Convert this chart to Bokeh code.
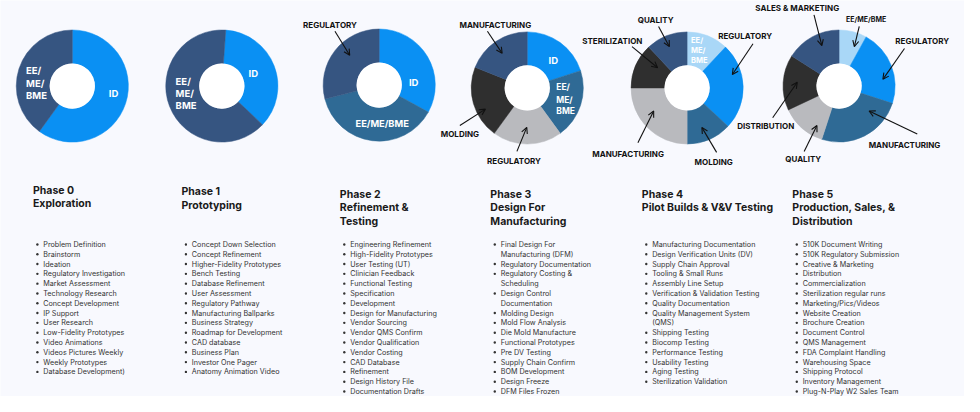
import numpy as np
from bokeh.plotting import figure
from bokeh.models import Range1d, Arrow, OpenHead, ColumnDataSource
from bokeh.core.properties import value
from bokeh.embed import file_html
from bokeh.resources import INLINE

# ---------------- data ----------------
phase_titles = [
    ["Phase 0", "Exploration"],
    ["Phase 1", "Prototyping"],
    ["Phase 2", "Refinement &", "Testing"],
    ["Phase 3", "Design For", "Manufacturing"],
    ["Phase 4", "Pilot Builds & V&V Testing"],
    ["Phase 5", "Production, Sales, &", "Distribution"],
]

phase0_items = ["Problem Definition", "Brainstorm", "Ideation", "Regulatory Investigation",
                "Market Assessment", "Technology Research", "Concept Development", "IP Support",
                "User Research", "Low-Fidelity Prototypes", "Video Animations",
                "Videos Pictures Weekly", "Weekly Prototypes", "Database Development)"]
phase1_items = ["Concept Down Selection", "Concept Refinement", "Higher-Fidelity Prototypes",
                "Bench Testing", "Database Refinement", "User Assessment", "Regulatory Pathway",
                "Manufacturing Ballparks", "Business Strategy", "Roadmap for Development",
                "CAD database", "Business Plan", "Investor One Pager", "Anatomy Animation Video"]
phase2_items = ["Engineering Refinement", "High-Fidelity Prototypes", "User Testing (UT)",
                "Clinician Feedback", "Functional Testing", "Specification", "Development",
                "Design for Manufacturing", "Vendor Sourcing", "Vendor QMS Confirm",
                "Vendor Qualification", "Vendor Costing", "CAD Database", "Refinement",
                "Design History File", "Documentation Drafts"]
phase3_items = ["Final Design For\nManufacturing (DFM)", "Regulatory Documentation",
                "Regulatory Costing &\nScheduling", "Design Control\nDocumentation",
                "Molding Design", "Mold Flow Analysis", "Die Mold Manufacture",
                "Functional Prototypes", "Pre DV Testing", "Supply Chain Confirm",
                "BOM Development", "Design Freeze", "DFM Files Frozen"]
phase4_items = ["Manufacturing Documentation", "Design Verification Units (DV)",
                "Supply Chain Approval", "Tooling & Small Runs", "Assembly Line Setup",
                "Verification & Validation Testing", "Quality Documentation",
                "Quality Management System\n(QMS)", "Shipping Testing", "Biocomp Testing",
                "Performance Testing", "Usability Testing", "Aging Testing",
                "Sterilization Validation"]
phase5_items = ["510K Document Writing", "510K Regulatory Submission", "Creative & Marketing",
                "Distribution", "Commercialization", "Sterilization regular runs",
                "Marketing/Pics/Videos", "Website Creation", "Brochure Creation",
                "Document Control", "QMS Management", "FDA Complaint Handling",
                "Warehousing Space", "Shipping Protocol", "Inventory Management",
                "Plug-N-Play W2 Sales Team"]
phase_items = [phase0_items, phase1_items, phase2_items, phase3_items, phase4_items, phase5_items]

# donut shares (percent), clockwise from the start angle
d0_cats = ["ID", "EE/ME/BME"]
d0_vals = [60, 40]
d1_cats = ["ID", "EE/ME/BME"]
d1_vals = [36, 64]
d2_cats = ["ID", "EE/ME/BME", "REGULATORY"]
d2_vals = [33, 38, 29]
d3_cats = ["ID", "EE/ME/BME", "REGULATORY", "MOLDING", "MANUFACTURING"]
d3_vals = [20, 20, 20, 21, 19]
d4_cats = ["EE/ME/BME", "REGULATORY", "MOLDING", "MANUFACTURING", "STERILIZATION", "QUALITY"]
d4_vals = [12, 25, 13, 25, 13, 12]
d5_cats = ["EE/ME/BME", "REGULATORY", "MANUFACTURING", "QUALITY", "DISTRIBUTION", "SALES & MARKETING"]
d5_vals = [8, 22, 25, 13, 16, 16]
donut_vals = [d0_vals, d1_vals, d2_vals, d3_vals, d4_vals, d5_vals]

# ---------------- styles / layout ----------------
BG = "#F8F9FE"
NAVY, MID, BLACK, GRAY, LIGHT, BRIGHT = "#365581", "#2F6A95", "#2F2F2F", "#B9BABE", "#A9D7F7", "#0A90F3"
donut_colors = [
    [BRIGHT, NAVY],
    [BRIGHT, NAVY],
    [BRIGHT, MID, NAVY],
    [BRIGHT, MID, GRAY, BLACK, NAVY],
    [LIGHT, BRIGHT, MID, GRAY, BLACK, NAVY],
    [LIGHT, BRIGHT, MID, GRAY, BLACK, NAVY],
]
centers = [(73, 89), (225, 89), (385, 88), (535.5, 91), (698, 91), (852.5, 89)]
start_deg = [90, 86, 90, 90, 90, 90]
R_OUT, R_IN = 57, 23

FONT = value("Inter")

p = figure(width=964, height=396, x_range=Range1d(0, 980), y_range=Range1d(-412, 0),
           x_axis_type=None, y_axis_type=None, toolbar_location=None, output_backend="svg",
           min_border=0, background_fill_color=BG, border_fill_color=BG, outline_line_color=None)
p.grid.visible = False

# donuts
for (cx, cy), vals, cols, st in zip(centers, donut_vals, donut_colors, start_deg):
    v = np.array(vals, dtype=float)
    cum = np.concatenate([[0], np.cumsum(v)]) / v.sum()
    starts = np.radians(st - cum[:-1] * 360)
    ends = np.radians(st - cum[1:] * 360)
    src = ColumnDataSource(dict(x=[cx] * len(v), y=[-cy] * len(v), s=starts, e=ends, c=cols))
    p.annular_wedge(x="x", y="y", inner_radius=R_IN, outer_radius=R_OUT, start_angle="s",
                    end_angle="e", direction="clock", fill_color="c", line_color="c",
                    line_width=0.5, source=src)
    p.circle(x=[cx], y=[-cy], radius=R_IN, fill_color="white", line_color=None)

# inner (white) labels: text, x, y, align, size
inner = [
    ("EE/", 26, 73, "left", "9.5px"), ("ME/", 26, 86, "left", "9.5px"), ("BME", 26, 99, "left", "9.5px"),
    ("ID", 115, 97, "center", "9.5px"),
    ("EE/", 178, 84, "left", "9.5px"), ("ME/", 178, 97, "left", "9.5px"), ("BME", 178, 109, "left", "9.5px"),
    ("ID", 257, 76, "center", "9.5px"),
    ("ID", 420, 85, "center", "9.5px"), ("EE/ME/BME", 388, 128, "center", "9.3px"),
    ("ID", 562, 62, "center", "9.5px"),
    ("EE/", 565, 90, "left", "8.5px"), ("ME/", 565, 103, "left", "8.5px"), ("BME", 565, 115, "left", "8.5px"),
    ("EE/", 702, 42, "left", "7.5px"), ("ME/", 702, 52, "left", "7.5px"), ("BME", 702, 62, "left", "7.5px"),
]
for t, x, y, al, sz in inner:
    p.text(x=[x], y=[-y], text=[t], text_color="white", text_font=FONT, text_font_style="bold",
           text_font_size=sz, text_align=al, text_baseline="middle")

# outer labels with arrows: text, x, y, size, arrow start, arrow end
outer = [
    ("REGULATORY", 335, 25, "8px", (340, 32), (355, 57)),
    ("MANUFACTURING", 503, 25, "8px", (495, 32), (510, 55)),
    ("MOLDING", 467, 139, "8px", (467, 130), (493, 113)),
    ("REGULATORY", 522, 167, "8px", (525, 157), (535, 132)),
    ("QUALITY", 666, 20, "8px", (669, 27), (680, 48)),
    ("STERILIZATION", 622, 42, "8px", (642, 48), (668, 70)),
    ("REGULATORY", 757, 37, "8px", (765, 45), (744, 77)),
    ("MANUFACTURING", 638, 160, "8px", (648, 148), (664, 115)),
    ("MOLDING", 725, 168, "8px", (728, 158), (713, 132)),
    ("SALES & MARKETING", 810, 8, "8px", (827, 15), (835, 47)),
    ("EE/ME/BME", 880, 20, "7px", (873, 27), (868, 48)),
    ("REGULATORY", 937, 42, "8px", (919, 50), (897, 82)),
    ("MANUFACTURING", 919, 150, "8px", (932, 139), (883, 115)),
    ("QUALITY", 816, 165, "8px", (817, 157), (830, 130)),
    ("DISTRIBUTION", 778, 131, "8px", (785, 122), (810, 85)),
]
for t, x, y, sz, a0, a1 in outer:
    p.text(x=[x], y=[-y], text=[t], text_color="#111111", text_font=FONT, text_font_style="bold",
           text_font_size=sz, text_align="center", text_baseline="middle")
    p.add_layout(Arrow(x_start=a0[0], y_start=-a0[1], x_end=a1[0], y_end=-a1[1],
                       line_color="#111111", line_width=1.1,
                       end=OpenHead(size=6, line_color="#111111", line_width=1.1)))

# phase titles and lists
title_x = [33, 184, 345, 498, 652, 805]
title_y0 = [197.7, 199, 201.7, 201.7, 201.7, 201.7]
TITLE_STEP = 14
list_y0 = 253.8
LINE = 10.2
for k in range(6):
    tx = title_x[k]
    for i, line in enumerate(phase_titles[k]):
        p.text(x=[tx], y=[-(title_y0[k] + i * TITLE_STEP)], text=[line], text_color="#1A1A1A",
               text_font=FONT, text_font_style="bold", text_font_size="10.5px",
               text_align="left", text_baseline="middle")
    bx, txx = tx + 4.5, tx + 10.5
    row = 0
    bxs, bys, lx, ly, lt = [], [], [], [], []
    for item in phase_items[k]:
        parts = item.split("\n")
        bxs.append(bx)
        bys.append(-(list_y0 + row * LINE))
        for part in parts:
            lx.append(txx)
            ly.append(-(list_y0 + row * LINE))
            lt.append(part)
            row += 1
    p.scatter(x=bxs, y=bys, size=2.4, marker="circle", fill_color="#333333", line_color=None)
    p.text(x=lx, y=ly, text=lt, text_color="#333333", text_font=FONT, text_font_size="7.2px",
           text_align="left", text_baseline="middle")

open("out.html", "w").write(file_html(p, INLINE))
